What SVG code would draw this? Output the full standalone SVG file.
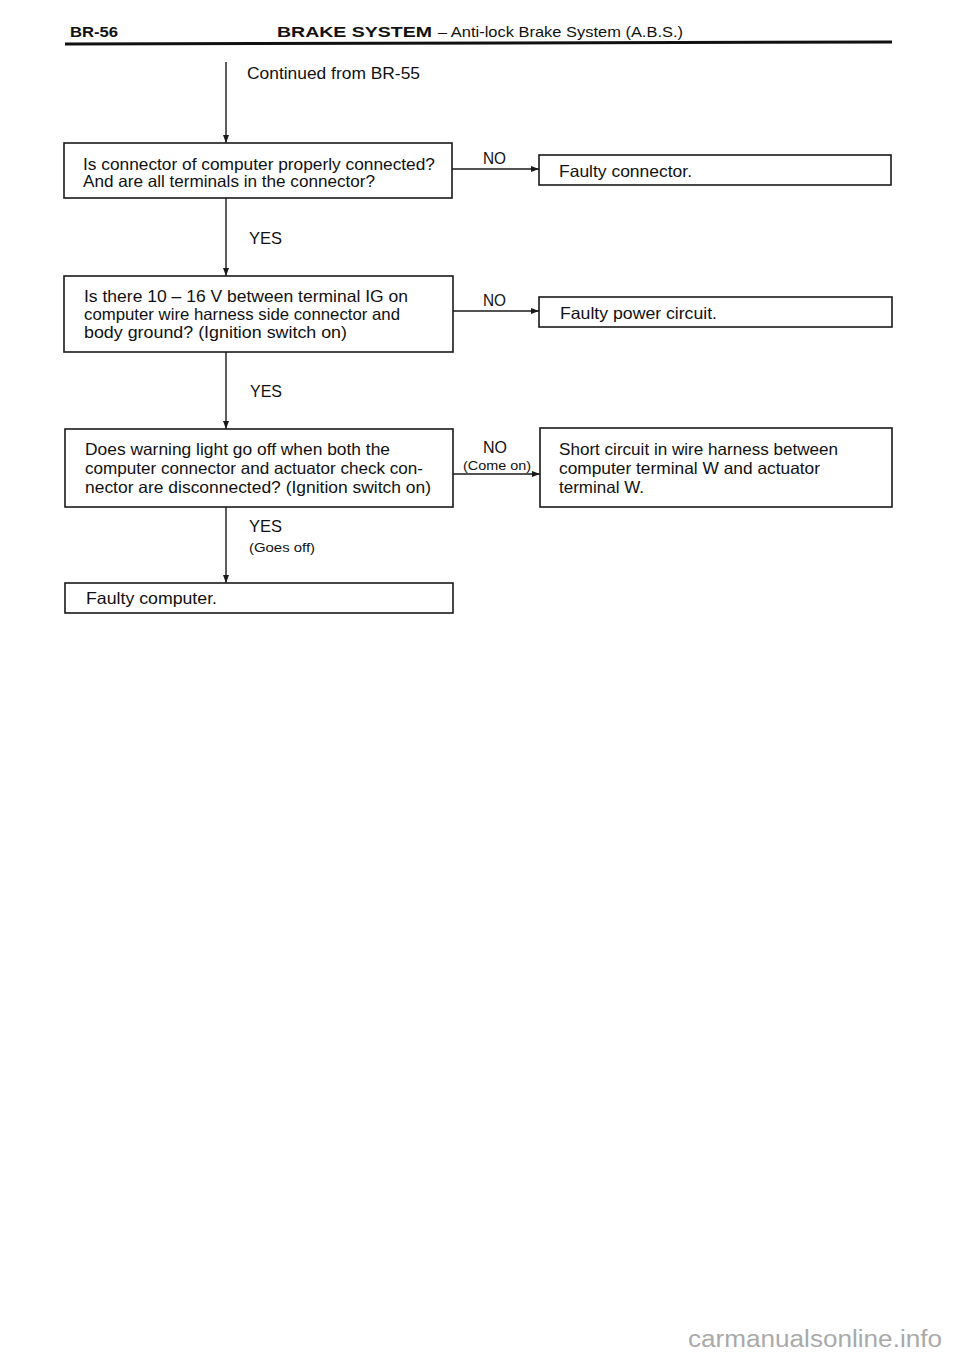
<svg xmlns="http://www.w3.org/2000/svg" width="960" height="1356" viewBox="0 0 960 1356">
<style>
.box{fill:#fff;stroke:#1a1a1a;stroke-width:1.6}
.t{font-family:"Liberation Sans","DejaVu Sans",sans-serif;font-size:16.5px;fill:#111}
.s{font-family:"Liberation Sans","DejaVu Sans",sans-serif;font-size:12.5px;fill:#111}
.h{font-family:"Liberation Sans","DejaVu Sans",sans-serif;font-size:15px;fill:#111}
.ln{stroke:#1a1a1a;stroke-width:1.4;fill:none}
</style>
<defs>
<marker id="ar" viewBox="0 0 8 6" refX="8" refY="3" markerWidth="8" markerHeight="6" markerUnits="userSpaceOnUse" orient="auto">
<path d="M0,0 L8,3 L0,6 z" fill="#1a1a1a"/>
</marker>
</defs>
<rect width="960" height="1356" fill="#fff"/>
<g id="header">
<text class="h" x="70" y="37" font-weight="bold" textLength="48" lengthAdjust="spacingAndGlyphs">BR-56</text>
<text class="h" x="277" y="37" font-weight="bold" textLength="155" lengthAdjust="spacingAndGlyphs">BRAKE  SYSTEM</text>
<text class="h" x="438" y="37" textLength="245" lengthAdjust="spacingAndGlyphs">– Anti-lock Brake System (A.B.S.)</text>
<line x1="65" y1="44" x2="892" y2="42" stroke="#111" stroke-width="3"/>
</g>
<g id="connectors">
<line class="ln" x1="226" y1="62" x2="226" y2="143" marker-end="url(#ar)"/>
<text class="t" x="247" y="79" textLength="173" lengthAdjust="spacingAndGlyphs">Continued from BR-55</text>
<line class="ln" x1="226" y1="198" x2="226" y2="276" marker-end="url(#ar)"/>
<text class="t" x="249" y="244" textLength="33" lengthAdjust="spacingAndGlyphs">YES</text>
<line class="ln" x1="226" y1="352" x2="226" y2="429" marker-end="url(#ar)"/>
<text class="t" x="250" y="397" textLength="32" lengthAdjust="spacingAndGlyphs">YES</text>
<line class="ln" x1="226" y1="507" x2="226" y2="583" marker-end="url(#ar)"/>
<text class="t" x="249" y="532" textLength="33" lengthAdjust="spacingAndGlyphs">YES</text>
<text class="s" x="249" y="552" textLength="66" lengthAdjust="spacingAndGlyphs">(Goes off)</text>
<line class="ln" x1="452" y1="169" x2="539" y2="169" marker-end="url(#ar)"/>
<text class="t" x="483" y="164" textLength="23" lengthAdjust="spacingAndGlyphs">NO</text>
<line class="ln" x1="453" y1="311" x2="539" y2="311" marker-end="url(#ar)"/>
<text class="t" x="483" y="306" textLength="23" lengthAdjust="spacingAndGlyphs">NO</text>
<line class="ln" x1="453" y1="474" x2="540" y2="474" marker-end="url(#ar)"/>
<text class="t" x="483" y="453" textLength="24" lengthAdjust="spacingAndGlyphs">NO</text>
<text class="s" x="463" y="470" textLength="68" lengthAdjust="spacingAndGlyphs">(Come on)</text>
</g>
<g id="q1">
<rect class="box" x="64" y="143" width="388" height="55"/>
<text class="t" x="83" y="170" textLength="352" lengthAdjust="spacingAndGlyphs">Is connector of computer properly connected?</text>
<text class="t" x="83" y="187" textLength="292" lengthAdjust="spacingAndGlyphs">And are all terminals in the connector?</text>
</g>
<g id="faulty-connector">
<rect class="box" x="539" y="155" width="352" height="30"/>
<text class="t" x="559" y="177" textLength="133" lengthAdjust="spacingAndGlyphs">Faulty connector.</text>
</g>
<g id="q2">
<rect class="box" x="64" y="276" width="389" height="76"/>
<text class="t" x="84" y="302" textLength="324" lengthAdjust="spacingAndGlyphs">Is there 10 – 16 V between terminal IG on</text>
<text class="t" x="84" y="320" textLength="316" lengthAdjust="spacingAndGlyphs">computer wire harness side connector and</text>
<text class="t" x="84" y="338" textLength="263" lengthAdjust="spacingAndGlyphs">body ground?  (Ignition switch on)</text>
</g>
<g id="faulty-power">
<rect class="box" x="539" y="297" width="353" height="30"/>
<text class="t" x="560" y="319" textLength="157" lengthAdjust="spacingAndGlyphs">Faulty power circuit.</text>
</g>
<g id="q3">
<rect class="box" x="65" y="429" width="388" height="78"/>
<text class="t" x="85" y="455" textLength="305" lengthAdjust="spacingAndGlyphs">Does warning light go off when both the</text>
<text class="t" x="85" y="474" textLength="338" lengthAdjust="spacingAndGlyphs">computer connector and actuator check con-</text>
<text class="t" x="85" y="493" textLength="346" lengthAdjust="spacingAndGlyphs">nector are disconnected?  (Ignition switch on)</text>
</g>
<g id="short-circuit">
<rect class="box" x="540" y="428" width="352" height="79"/>
<text class="t" x="559" y="455" textLength="279" lengthAdjust="spacingAndGlyphs">Short circuit in wire harness between</text>
<text class="t" x="559" y="474" textLength="261" lengthAdjust="spacingAndGlyphs">computer terminal W and actuator</text>
<text class="t" x="559" y="493" textLength="85" lengthAdjust="spacingAndGlyphs">terminal W.</text>
</g>
<g id="faulty-computer">
<rect class="box" x="65" y="583" width="388" height="30"/>
<text class="t" x="86" y="604" textLength="131" lengthAdjust="spacingAndGlyphs">Faulty computer.</text>
</g>
<text x="688" y="1347" textLength="254" lengthAdjust="spacingAndGlyphs" font-family="'Liberation Sans','DejaVu Sans',sans-serif" font-size="23" fill="#aaa">carmanualsonline.info</text>
</svg>
